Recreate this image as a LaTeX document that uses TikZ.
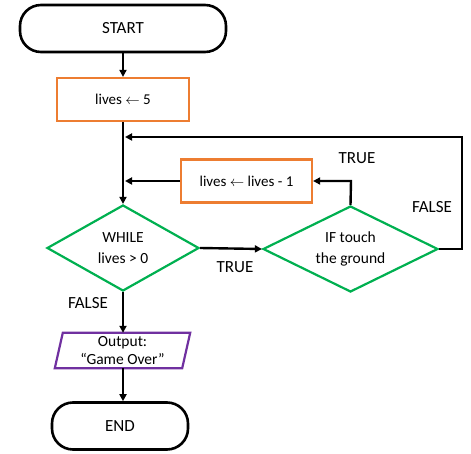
\documentclass[tikz,border=0pt]{standalone}
\usepackage{fontspec}
\setmainfont{Carlito}
\usetikzlibrary{shapes.geometric,arrows.meta}
\definecolor{orng}{HTML}{ED7D31}
\definecolor{grn}{HTML}{00B050}
\definecolor{purp}{HTML}{7030A0}
\begin{document}
\begin{tikzpicture}[x=1pt,y=-1pt,
  term/.style={draw=black,line width=2.6pt,rounded corners=21pt,minimum width=206pt,minimum height=47pt,inner sep=0pt,font=\fontsize{17}{20}\selectfont},
  procbox/.style={draw=orng,line width=2.2pt,minimum height=43pt,inner sep=0pt,font=\fontsize{15}{18}\selectfont},
  dec/.style={draw=grn,line width=2.2pt,diamond,minimum height=86pt,inner sep=0pt,align=center,font=\fontsize{15.5}{21}\selectfont},
  lbl/.style={font=\fontsize{17}{20}\selectfont,inner sep=0pt},
  conn/.style={line width=2.4pt,-{Triangle[length=7pt,width=7pt]}},
  plain/.style={line width=2.4pt}]
\useasboundingbox (0,0) rectangle (471,454);
\node[term] (start) at (123,28.5) {START};
\node[procbox,minimum width=132pt] (init) at (123,99.5) {lives $\leftarrow$ 5};
\node[dec,aspect=1.77,minimum width=152pt] (while) at (123,248) {WHILE\\lives > 0};
\node[dec,aspect=2.03,minimum width=175pt] (iff) at (350.5,249) {IF touch\\the ground};
\node[procbox,minimum width=131pt] (dec1) at (246.5,181) {lives $\leftarrow$ lives - 1};
\node[minimum width=127pt,minimum height=35pt,inner sep=0pt,align=center,font=\fontsize{15.5}{18}\selectfont] (out) at (122.5,350.5) {Output:\\“Game Over”};
\draw[purp,line width=2.2pt] ([xshift=4pt]out.north west) -- ([xshift=4pt]out.north east) -- ([xshift=-4pt]out.south east) -- ([xshift=-4pt]out.south west) -- cycle;
\node[term,minimum width=136pt] (end) at (120,426) {END};
\coordinate (j1) at (125,137);
\coordinate (j2) at (125,181);
\coordinate (c1) at (462,249);
\coordinate (c2) at (462,137);
\coordinate (c3) at (351,181);
\draw[conn] (start.south -| init.north) -- (init.north);
\draw[conn] (init.south) -- (while.north);
\draw[conn] (while.east) -- (iff.west);
\draw[conn] (iff.east) -- (c1) -- (c2) -- (j1);
\draw[conn] (iff.north) -- (c3) -- (dec1.east);
\draw[conn] (dec1.west) -- (j2);
\draw[conn] (while.south) -- (out.north -| while.south);
\draw[conn] (out.south -| while.south) -- (end.north -| while.south);
\node[lbl] (t1) at (235,267) {TRUE};
\node[lbl] (t2) at (357,158) {TRUE};
\node[lbl] (f1) at (432,207) {FALSE};
\node[lbl] (f2) at (88,303) {FALSE};
\end{tikzpicture}
\end{document}
